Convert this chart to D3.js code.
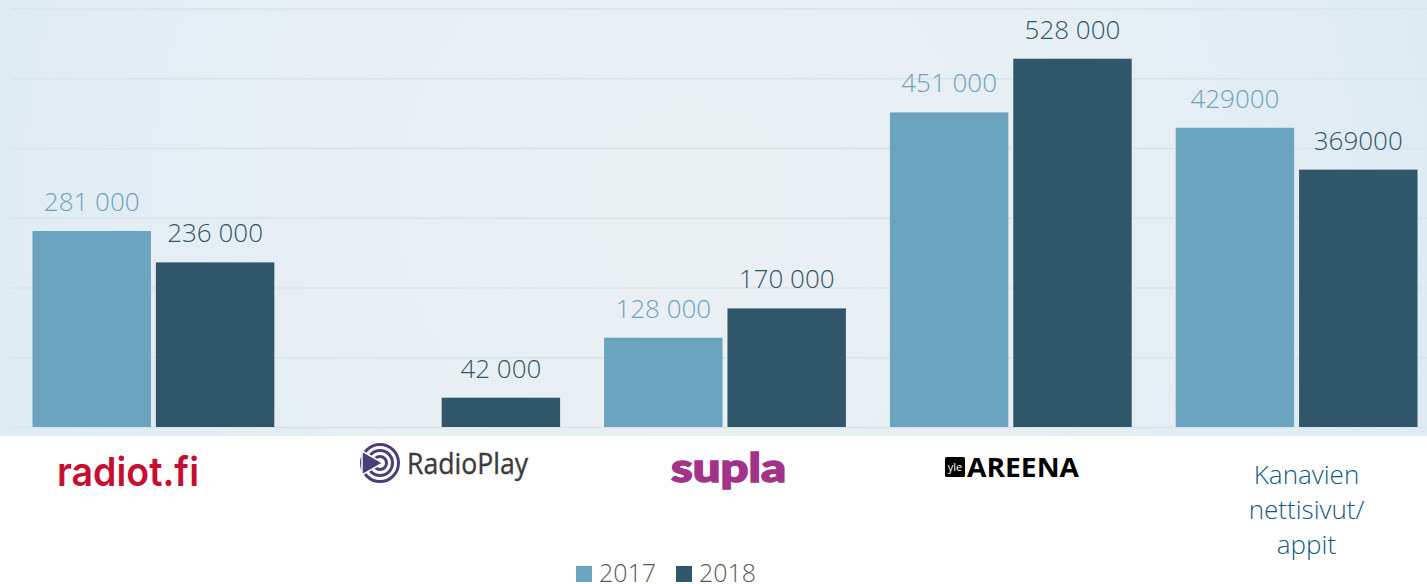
<!DOCTYPE html>
<html><head><meta charset="utf-8">
<script src="https://cdn.jsdelivr.net/npm/d3@7"></script>
<style>html,body{margin:0;padding:0;background:#fff;overflow:hidden}svg{display:block}text{font-family:"Open Sans",sans-serif}</style>
</head><body><svg id="c" width="1427" height="584"></svg>
<script>
const categories=["radiot.fi","RadioPlay","supla","AREENA","Kanavien nettisivut/ appit"];
const years=["2017","2018"];
const values2017=[281000,null,128000,451000,429000];
const values2018=[236000,42000,170000,528000,369000];
const labels2017=["281 000",null,"128 000","451 000","429000"];
const labels2018=["236 000","42 000","170 000","528 000","369000"];
const gridTicks=[0,100000,200000,300000,400000,500000,600000];
const colors={"2017":"#6ba4bf","2018":"#30566a"};

const svg=d3.select("#c");
const defs=svg.append("defs");
const g=defs.append("radialGradient").attr("id","bg").attr("gradientUnits","userSpaceOnUse")
 .attr("cx",690).attr("cy",200).attr("r",760);
g.append("stop").attr("offset",0).attr("stop-color","#ebf0f2");
g.append("stop").attr("offset",.5).attr("stop-color","#e7eff3");
g.append("stop").attr("offset",1).attr("stop-color","#deebf3");
svg.append("rect").attr("width",1427).attr("height",436).attr("fill","url(#bg)");

const x=d3.scaleBand().domain(categories).range([10.5,1439.5]);
const y=d3.scaleLinear().domain([0,600000]).range([427,8.5]);
const inner=d3.scaleBand().domain(years).range([22,x.bandwidth()-22]).paddingInner(.04);

const axisY=d3.axisLeft(y).tickValues(gridTicks).tickSize(-1417).tickFormat("");
const ga=svg.append("g").attr("transform","translate(10,0)").call(axisY);
ga.select(".domain").remove();
ga.selectAll("line").attr("stroke","#d6e4eb").attr("stroke-width",1.5);

const series=[["2017",values2017,labels2017],["2018",values2018,labels2018]];
series.forEach(([yr,vals,labs])=>{
 const layer=svg.append("g");
 const data=categories.map((c,i)=>({c,v:vals[i],l:labs[i]})).filter(d=>d.v!=null);
 layer.selectAll("rect").data(data).join("rect")
  .attr("x",d=>x(d.c)+inner(yr)).attr("width",inner.bandwidth())
  .attr("y",d=>y(d.v)).attr("height",d=>y(0)-y(d.v)).attr("fill",colors[yr]);
 layer.selectAll("text").data(data).join("text")
  .attr("x",d=>x(d.c)+inner(yr)+inner.bandwidth()/2).attr("y",d=>y(d.v)-20)
  .attr("text-anchor","middle").attr("font-size",26).attr("font-weight",300)
  .attr("fill",colors[yr]).text(d=>d.l);
});

// category marks (logos as real text)
const cx=c=>x(c)+x.bandwidth()/2;
svg.append("text").attr("x",57).attr("y",486).attr("font-size",40).attr("font-weight",600).style("font-family","Inter")
 .attr("fill","#c50f32").attr("textLength",142).attr("lengthAdjust","spacingAndGlyphs").text(categories[0]);
const rp=svg.append("g").attr("transform","translate(380,463)");
[18.5,12.5,6.5].forEach(r=>rp.append("circle").attr("r",r).attr("fill","none").attr("stroke","#4b3f7a").attr("stroke-width",3));
rp.append("path").attr("d","M-18,-12L3,0L-18,12Z").attr("fill","#4b3f7a").attr("stroke","#fff").attr("stroke-width",1.5);
svg.append("text").attr("x",407).attr("y",474).attr("font-size",29).attr("fill","#3f3b3b").attr("stroke","#3f3b3b").attr("stroke-width",.4)
 .attr("textLength",121).attr("lengthAdjust","spacingAndGlyphs").text(categories[1]);
svg.append("text").attr("x",671).attr("y",482).attr("font-size",40).attr("font-weight",900).style("font-family","Lato")
 .attr("fill","#a2338a").attr("stroke","#a2338a").attr("stroke-width",1.5).attr("textLength",115).attr("lengthAdjust","spacingAndGlyphs").text(categories[2]);
svg.append("rect").attr("x",945).attr("y",457).attr("width",20).attr("height",20).attr("rx",1.5).attr("fill","#000");
svg.append("text").attr("x",955).attr("y",471).attr("font-size",11).attr("text-anchor","middle").attr("fill","#fff").text("yle");
svg.append("text").attr("x",967).attr("y",477).attr("font-size",26).attr("font-weight",700).attr("fill","#000")
 .attr("textLength",112).attr("lengthAdjust","spacingAndGlyphs").text(categories[3]);

const catLines=["Kanavien","nettisivut/","appit"];
svg.append("g").selectAll("text").data(catLines).join("text")
 .attr("x",1306.5).attr("y",(d,i)=>484+i*35).attr("text-anchor","middle")
 .attr("font-size",26).attr("font-weight",300).attr("fill","#125a85").text(d=>d);

// legend
const legendX=d3.scaleOrdinal().domain(years).range([576,676]);
const lg=svg.append("g").selectAll("g").data(years).join("g").attr("transform",d=>`translate(${legendX(d)},566)`);
lg.append("rect").attr("width",16).attr("height",16).attr("fill",d=>colors[d]);
lg.append("text").attr("x",23).attr("y",15.5).attr("font-size",25).attr("font-weight",300).attr("fill","#595959").text(d=>d);
</script></body></html>
